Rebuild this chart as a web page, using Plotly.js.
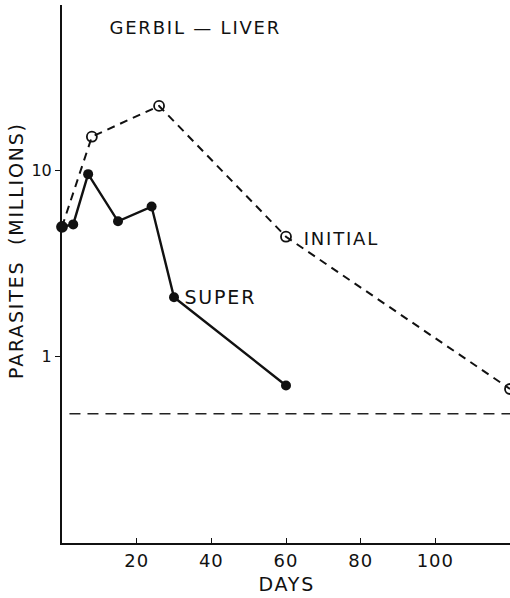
<!DOCTYPE html>
<html><head><meta charset="utf-8">
<script src="https://cdn.plot.ly/plotly-3.0.1.min.js"></script>
<style>
html,body{margin:0;padding:0;background:#fff}
#chart .annotation-text{letter-spacing:1.8px}
#chart .xtick text{letter-spacing:1px}
</style>
</head><body>
<div id="chart" style="width:510px;height:598px"></div>
<script>
// Data
const initialDays = [0, 8, 26, 60, 120];
const initialParasites = [4.95, 15.1, 22.1, 4.38, 0.665];
const superDays = [0, 3, 7, 15, 24, 30, 60];
const superParasites = [4.95, 5.1, 9.5, 5.3, 6.36, 2.07, 0.695];
const baselineDays = [2, 120];
const baselineValues = [0.49, 0.49];
const xTicks = [20, 40, 60, 80, 100];
const yTicks = [1, 10];
const yTickText = ["1", "10"];

const fam = "DejaVu Sans, sans-serif";
const ink = "#111";

const traces = [
  {x: baselineDays, y: baselineValues, mode: "lines", type: "scatter",
   line: {color: "#222", width: 1.5, dash: "11px,7px"}, hoverinfo: "skip"},
  {x: initialDays, y: initialParasites, mode: "lines+markers", type: "scatter",
   line: {color: ink, width: 2, dash: "8px,6px"},
   marker: {symbol: "circle-open", size: 10, color: ink, line: {width: 1.8}},
   cliponaxis: false},
  {x: superDays, y: superParasites, mode: "lines+markers", type: "scatter",
   line: {color: ink, width: 2.4},
   marker: {symbol: "circle", size: 10, color: ink}, cliponaxis: false}
];

const layout = {
  width: 510, height: 598,
  margin: {l: 62, r: 0, t: 5, b: 55},
  paper_bgcolor: "#fff", plot_bgcolor: "#fff",
  showlegend: false,
  font: {family: fam, color: ink, size: 17},
  xaxis: {range: [0, 120], tickvals: xTicks, ticks: "inside", ticklen: 5,
          tickcolor: ink, showgrid: false, zeroline: false,
          showline: true, linecolor: ink, linewidth: 2,
          tickfont: {family: fam, size: 18, color: ink}},
  yaxis: {type: "log", range: [-1.005, 1.887], tickvals: yTicks, ticktext: yTickText,
          ticks: "outside", ticklen: 5, tickcolor: ink, ticklabelstandoff: 0, showgrid: false,
          zeroline: false, showline: true, linecolor: ink, linewidth: 2,
          tickfont: {family: fam, size: 16, color: ink}},
  annotations: [
    {text: "GERBIL — LIVER", xref: "paper", yref: "paper", x: (195-62)/448, y: (543-28)/538,
     showarrow: false, xanchor: "center", yanchor: "middle", font: {family: fam, size: 18, color: ink}},
    {text: "INITIAL", xref: "x", yref: "y", x: 66, y: 0.634, showarrow: false,
     xanchor: "left", yanchor: "middle", font: {family: fam, size: 18, color: ink}},
    {text: "SUPER", xref: "x", yref: "y", x: 33.6, y: 0.317, showarrow: false,
     xanchor: "left", yanchor: "middle", font: {family: fam, size: 19, color: ink}},
    {text: "PARASITES  (MILLIONS)", xref: "paper", yref: "paper", x: (16-62)/448, y: (543-251)/538,
     showarrow: false, textangle: -90, xanchor: "center", yanchor: "middle",
     font: {family: fam, size: 19, color: ink}},
    {text: "DAYS", xref: "paper", yref: "paper", x: (287-62)/448, y: (543-584)/538,
     showarrow: false, xanchor: "center", yanchor: "middle",
     font: {family: fam, size: 19, color: ink}}
  ]
};

Plotly.newPlot("chart", traces, layout, {displayModeBar: false, staticPlot: true});
</script>
</body></html>
